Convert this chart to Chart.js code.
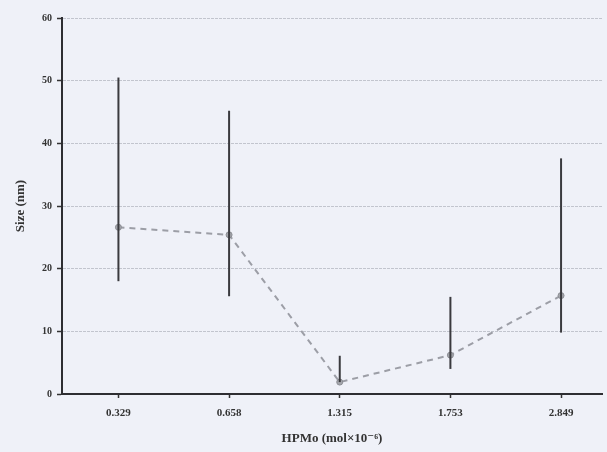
<!DOCTYPE html>
<html>
<head>
<meta charset="utf-8">
<script src="https://cdn.jsdelivr.net/npm/chart.js@4/dist/chart.umd.min.js"></script>
<style>
  html, body { margin: 0; padding: 0; background: #eff1f8; overflow: hidden; }
  #wrap { position: relative; width: 607px; height: 452px; }
</style>
</head>
<body>
<div id="wrap"><canvas id="chart" width="607" height="452"></canvas></div>
<script>
// values
const labels = ["0.329", "0.658", "1.315", "1.753", "2.849"];
const sizes = [26.6, 25.4, 1.9, 6.2, 15.7];
const errLow = [18.0, 15.6, 1.9, 4.0, 9.8];
const errHigh = [50.5, 45.2, 6.1, 15.5, 37.6];
const yTicks = [0, 10, 20, 30, 40, 50, 60];

const textColor = "#333";
const serif = "'Liberation Serif', 'DejaVu Serif', serif";

// paint the paper colour behind everything
const bgPlugin = {
  id: "bg",
  beforeDraw(chart) {
    const ctx = chart.ctx;
    ctx.save();
    ctx.fillStyle = "#eff1f8";
    ctx.fillRect(0, 0, chart.width, chart.height);
    ctx.restore();
  },
};

// vertical error bars, no caps
const errorBars = {
  id: "errorBars",
  afterDatasetsDraw(chart) {
    const ctx = chart.ctx;
    const x = chart.scales.x;
    const y = chart.scales.y;
    ctx.save();
    ctx.strokeStyle = "#3a3a3e";
    ctx.lineWidth = 2;
    for (let i = 0; i < labels.length; i++) {
      const px = x.getPixelForValue(i);
      ctx.beginPath();
      ctx.moveTo(px, y.getPixelForValue(errLow[i]));
      ctx.lineTo(px, y.getPixelForValue(errHigh[i]));
      ctx.stroke();
    }
    ctx.restore();
  },
};

const ctx = document.getElementById("chart").getContext("2d");
new Chart(ctx, {
  type: "scatter",
  data: {
    datasets: [
      {
        data: sizes.map((v, i) => ({ x: i, y: v })),
        showLine: true,
        borderColor: "#9c9ea6",
        borderWidth: 2,
        borderDash: [6, 5],
        pointRadius: 3,
        pointBackgroundColor: "#a4a6ac",
        pointBorderColor: "#8c8e94",
        pointBorderWidth: 1,
      },
    ],
  },
  options: {
    responsive: false,
    animation: false,
    devicePixelRatio: 1,
    layout: { padding: { top: 18, right: 0, left: 0, bottom: 0 } },
    plugins: {
      legend: { display: false },
      tooltip: { enabled: false },
    },
    scales: {
      x: {
        type: "linear",
        min: -0.51,
        max: 4.37,
        afterBuildTicks(scale) {
          scale.ticks = labels.map((l, i) => ({ value: i }));
        },
        afterFit(scale) {
          scale.height = 58;
        },
        ticks: {
          callback: (v) => labels[v],
          autoSkip: false,
          color: textColor,
          font: { family: serif, size: 11, weight: "bold" },
          padding: 9,
          maxRotation: 0,
        },
        grid: {
          drawOnChartArea: false,
          tickLength: 4,
          tickColor: "#333",
          tickWidth: 1.5,
        },
        border: { color: "#2e2e32", width: 2 },
        title: {
          display: true,
          text: "HPMo (mol×10⁻⁶)",
          color: textColor,
          font: { family: serif, size: 13, weight: "bold" },
          padding: { top: 0, bottom: 6 },
        },
      },
      y: {
        min: 0,
        max: 60,
        afterBuildTicks(scale) {
          scale.ticks = yTicks.map((v) => ({ value: v }));
        },
        afterFit(scale) {
          scale.width = 62;
        },
        ticks: {
          autoSkip: false,
          color: textColor,
          font: { family: serif, size: 10, weight: "bold" },
          padding: 5,
        },
        grid: {
          color: "#c2c5ce",
          lineWidth: 1,
          tickLength: 5,
          tickColor: "#333",
          tickWidth: 1.5,
        },
        border: { color: "#2e2e32", width: 2, dash: [3, 1] },
        title: {
          display: true,
          text: "Size (nm)",
          color: textColor,
          font: { family: serif, size: 13, weight: "bold" },
          padding: { top: 13, bottom: 0 },
        },
      },
    },
  },
  plugins: [bgPlugin, errorBars],
});
</script>
</body>
</html>
